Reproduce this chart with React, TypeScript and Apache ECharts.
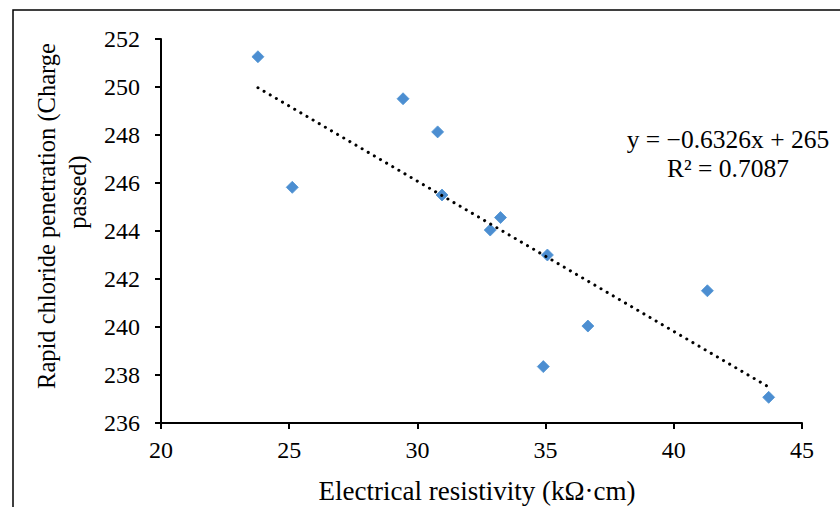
import React, { useEffect, useRef } from "react";
import * as echarts from "echarts";

const resistivity = [23.78, 25.12, 29.44, 30.79, 30.96, 33.24, 32.84, 35.07, 41.31, 36.65, 34.91, 43.7];
const chargePassed = [251.26, 245.82, 249.51, 248.13, 245.5, 244.56, 244.04, 243.0, 241.51, 240.04, 238.35, 237.07];
const trendX = [23.78, 43.7];
const trendY = [249.97, 237.5];
const xTicks = [20, 25, 30, 35, 40, 45];
const yTicks = [236, 238, 240, 242, 244, 246, 248, 250, 252];
const equationLines = ["y = \u22120.6326x + 265", "R\u00B2 = 0.7087"];
const xTitle = "Electrical resistivity (k\u03A9\u00B7cm)";
const yTitleLines = ["Rapid chloride penetration (Charge", "passed)"];

const FONT = "'Liberation Serif', 'Times New Roman', serif";

export default function App() {
  const ref = useRef<HTMLDivElement>(null);
  useEffect(() => {
    document.body.style.margin = "0";
    if (!ref.current) return;
    const chart = echarts.init(ref.current, undefined, { renderer: "svg" });
    const points = resistivity.map((x, i) => [x, chargePassed[i]]);
    const trend = trendX.map((x, i) => [x, trendY[i]]);
    chart.setOption({
      animation: false,
      backgroundColor: "#ffffff",
      grid: { left: 161, top: 39, right: 38, bottom: 84, containLabel: false, outerBoundsMode: "none" },
      xAxis: {
        type: "value",
        min: xTicks[0],
        max: xTicks[xTicks.length - 1],
        interval: 5,
        name: xTitle,
        nameLocation: "middle",
        nameGap: 54,
        nameTextStyle: { fontFamily: FONT, fontSize: 27, color: "#000", padding: [0, 9, 0, 0] },
        axisLine: { show: true, onZero: false, lineStyle: { color: "#000", width: 2 } },
        axisTick: { show: true, length: 6, inside: false, lineStyle: { color: "#000", width: 2 } },
        axisLabel: { fontFamily: FONT, fontSize: 24, color: "#000", margin: 15 },
        splitLine: { show: false },
      },
      yAxis: {
        type: "value",
        min: yTicks[0],
        max: yTicks[yTicks.length - 1],
        interval: 2,
        axisLine: { show: true, onZero: false, lineStyle: { color: "#000", width: 2 } },
        axisTick: { show: true, length: 6, inside: false, lineStyle: { color: "#000", width: 2 } },
        axisLabel: { fontFamily: FONT, fontSize: 24, color: "#000", margin: 21 },
        splitLine: { show: false },
      },
      series: [
        {
          type: "line",
          data: trend,
          symbol: "none",
          lineStyle: { color: "#000", width: 3, type: [0.1, 7], cap: "round" },
          z: 3,
        },
        {
          type: "scatter",
          data: points,
          symbol: "diamond",
          symbolSize: 12,
          itemStyle: { color: "#1F72C6", borderColor: "#4E92D2", borderWidth: 1 },
          z: 2,
        },
      ],
      graphic: [
        {
          type: "rect",
          shape: { x: 13, y: 10, width: 900, height: 600 },
          style: { fill: "none", stroke: "#000", lineWidth: 1.5 },
          silent: true,
        },
        {
          type: "text",
          x: 46,
          y: 216,
          rotation: Math.PI / 2,
          style: {
            text: yTitleLines[0],
            font: `24.5px ${FONT}`,
            fill: "#000",
            align: "center",
            verticalAlign: "middle",
          },
          silent: true,
        },
        {
          type: "text",
          x: 77,
          y: 192,
          rotation: Math.PI / 2,
          style: {
            text: yTitleLines[1],
            font: `24.5px ${FONT}`,
            fill: "#000",
            align: "center",
            verticalAlign: "middle",
          },
          silent: true,
        },
        {
          type: "text",
          x: 728,
          y: 154,
          style: {
            text: equationLines.join("\n"),
            font: `25.5px ${FONT}`,
            fill: "#000",
            align: "center",
            verticalAlign: "middle",
            lineHeight: 29,
          },
          silent: true,
        },
      ],
    });
    return () => chart.dispose();
  }, []);
  return <div ref={ref} style={{ width: 840, height: 507 }} />;
}
